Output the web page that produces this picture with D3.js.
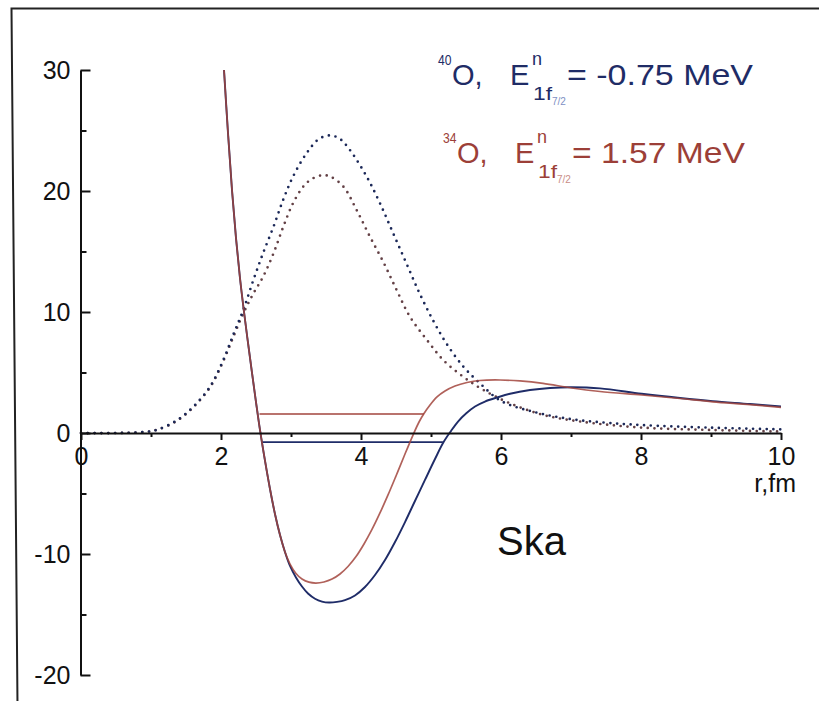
<!DOCTYPE html>
<html>
<head>
<meta charset="utf-8">
<script src="https://cdn.jsdelivr.net/npm/d3@7"></script>
<style>
  html, body { margin: 0; padding: 0; background: #fff; }
  svg { display: block; font-family: "Liberation Sans", Arial, sans-serif; }
</style>
</head>
<body>
<svg id="chart" width="819" height="701"></svg>
<script>
// ---- data ----
const xTickValues = [0, 2, 4, 6, 8, 10];
const xMinorTicks = [1, 3, 5, 7, 9];
const yTickValues = [-20, -10, 0, 10, 20, 30];
const yMinorTicks = [-15, -5, 5, 15, 25];

// common inner wall of both potentials
const wallR = [2.043, 2.1, 2.157, 2.214, 2.271, 2.329, 2.386, 2.443, 2.5, 2.557, 2.629, 2.7, 2.771, 2.843, 2.914];
const wallV = [30.0, 24.79, 20.08, 16.12, 12.81, 10.0, 7.44, 4.96, 2.56, 0.25, -2.31, -4.63, -6.69, -8.43, -9.83];

// 40O potential (solid, blue), continuing after the wall
const potBlueR = [2.986, 3.071, 3.157, 3.243, 3.343, 3.443, 3.543, 3.657, 3.771, 3.914, 4.057, 4.2, 4.343, 4.486, 4.629, 4.771, 4.914, 5.057, 5.176, 5.286, 5.386, 5.5, 5.629, 5.771, 5.943, 6.129, 6.414, 6.7, 7.01, 7.414, 8.01, 8.557, 9.024, 9.557, 10.0];
const potBlueV = [-10.99, -11.94, -12.69, -13.27, -13.70, -13.93, -14.01, -13.96, -13.82, -13.43, -12.73, -11.74, -10.50, -9.01, -7.36, -5.62, -3.88, -2.15, -0.79, 0.17, 0.95, 1.61, 2.19, 2.60, 2.93, 3.24, 3.55, 3.72, 3.78, 3.69, 3.24, 2.89, 2.63, 2.40, 2.19];
// 34O potential (solid, red), continuing after the wall
const potRedR = [2.986, 3.071, 3.157, 3.257, 3.357, 3.471, 3.586, 3.7, 3.814, 3.929, 4.043, 4.157, 4.271, 4.386, 4.5, 4.614, 4.743, 4.829, 4.9, 4.986, 5.086, 5.2, 5.343, 5.514, 5.7, 5.986, 6.271, 6.6, 7.01, 7.414, 8.01, 8.557, 9.024, 9.557, 10.0];
const potRedV = [-10.83, -11.61, -12.07, -12.33, -12.40, -12.31, -12.07, -11.65, -11.03, -10.21, -9.17, -7.97, -6.61, -5.12, -3.55, -1.94, -0.17, 0.91, 1.61, 2.31, 2.98, 3.47, 3.88, 4.17, 4.34, 4.38, 4.30, 4.10, 3.72, 3.43, 3.14, 2.85, 2.58, 2.35, 2.12];

// density (dotted)
const denBlueR = [0, 0.5, 0.8, 1.0, 1.13, 1.37, 1.6, 1.84, 2.03, 2.18, 2.32, 2.46, 2.6, 2.75, 2.89, 3.03, 3.22, 3.4, 3.56, 3.7, 3.84, 4.08, 4.27, 4.46, 4.65, 4.84, 5.03, 5.22, 5.46, 5.7, 6.0, 6.5, 7.0, 7.5, 8.0, 9.0, 10.0];
const denBlueV = [0, 0, 0.05, 0.15, 0.35, 1.05, 2.15, 3.8, 6.0, 8.2, 10.2, 12.6, 14.85, 17.05, 19.3, 21.2, 23.1, 24.3, 24.6, 24.3, 23.4, 21.2, 19.0, 16.5, 14.0, 11.5, 9.3, 7.4, 5.5, 4.1, 2.65, 1.7, 1.15, 0.85, 0.66, 0.44, 0.3];
const denRedR = [0, 0.5, 0.8, 1.0, 1.13, 1.37, 1.6, 1.84, 2.03, 2.18, 2.32, 2.46, 2.6, 2.75, 2.89, 3.03, 3.18, 3.3, 3.44, 3.56, 3.75, 3.94, 4.13, 4.33, 4.51, 4.7, 4.94, 5.18, 5.46, 5.75, 6.13, 6.6, 7.13, 8.0, 9.0, 10.0];
const denRedV = [0, 0, 0.05, 0.15, 0.35, 1.0, 2.1, 3.75, 5.9, 8.0, 9.9, 11.5, 12.9, 14.85, 17.05, 19.0, 20.4, 21.0, 21.3, 21.2, 20.35, 18.4, 16.2, 14.0, 11.8, 9.6, 7.7, 6.0, 4.65, 3.55, 2.45, 1.5, 0.95, 0.45, 0.25, 0.12];

// single-particle levels
const levelEnergy = [-0.75, 1.57];
const levelStart = [2.59, 2.55];
const levelEnd = [5.17, 4.90];

const blue = "#1f2c68";
const red = "#a2453d";
const blueDot = "#1b2858";
const redDot = "#634045";

// ---- drawing ----
const svg = d3.select("#chart");

// frame (scanned figure border)
svg.append("path")
  .attr("d", "M830,8.5 L11.5,8.5 L17.5,705")
  .attr("fill", "none").attr("stroke", "#222").attr("stroke-width", 2);

const x = d3.scaleLinear().domain([0, 10]).range([81, 781]);
const y = d3.scaleLinear().domain([-20, 30]).range([675, 70]);

const zip = (a, b) => a.map((v, i) => [v, b[i]]);
const line = d3.line().x(d => x(d[0])).y(d => y(d[1])).curve(d3.curveCatmullRom.alpha(0.5));

// dotted densities
[[denRedR, denRedV, redDot], [denBlueR, denBlueV, blueDot]].forEach(([r, v, c]) => {
  svg.append("path").datum(zip(r, v)).attr("d", line)
    .attr("fill", "none").attr("stroke", c).attr("stroke-width", 2.7)
    .attr("stroke-linecap", "round").attr("stroke-dasharray", "0 6.8");
});

// levels
levelEnergy.forEach((e, i) => {
  svg.append("line")
    .attr("x1", x(levelStart[i])).attr("x2", x(levelEnd[i]))
    .attr("y1", y(e)).attr("y2", y(e))
    .attr("stroke", i === 0 ? blue : red).attr("stroke-width", 1.6);
});

// potentials
const bluePts = zip(wallR, wallV).concat(zip(potBlueR, potBlueV));
const redPts = zip(wallR, wallV).concat(zip(potRedR, potRedV));
svg.append("path").datum(bluePts).attr("d", line)
  .attr("fill", "none").attr("stroke", blue).attr("stroke-width", 1.9);
svg.append("path").datum(redPts).attr("d", line)
  .attr("fill", "none").attr("stroke", red).attr("stroke-width", 1.7).attr("stroke-opacity", 0.85);

// axes
const axisFont = 25;
const fmt = d => String(d);
const gx = svg.append("g").attr("transform", `translate(0,${y(0)})`);
gx.call(d3.axisBottom(x).tickValues(xTickValues).tickSizeInner(7).tickSizeOuter(0).tickPadding(7).tickFormat(fmt));
const gxm = svg.append("g").attr("transform", `translate(0,${y(0)})`);
gxm.call(d3.axisBottom(x).tickValues(xMinorTicks).tickSizeInner(4).tickSizeOuter(0).tickFormat(""));
gxm.select(".domain").remove();

const gy = svg.append("g").attr("transform", `translate(80.5,0)`);
gy.call(d3.axisLeft(y).tickValues(yTickValues).tickSizeInner(-10).tickSizeOuter(0).tickPadding(10).tickFormat(fmt));
const gym = svg.append("g").attr("transform", `translate(80.5,0)`);
gym.call(d3.axisLeft(y).tickValues(yMinorTicks).tickSizeInner(-6).tickSizeOuter(0).tickFormat(""));
gym.select(".domain").remove();

svg.selectAll(".domain, .tick line").attr("stroke", "#111").attr("stroke-width", 2);
svg.selectAll(".tick text").attr("font-size", axisFont).attr("font-family", "Liberation Sans, Arial, sans-serif").attr("fill", "#111");

// axis title
svg.append("text").attr("x", 796).attr("y", 492).attr("text-anchor", "end")
  .attr("font-size", 25).attr("fill", "#111").text("r,fm");

// legend text
function legendLine(cfg) {
  const g = svg.append("g").attr("fill", cfg.color);
  g.append("text").attr("x", cfg.x0).attr("y", cfg.base - 20).attr("font-size", 14)
    .attr("textLength", 13.5).attr("lengthAdjust", "spacingAndGlyphs").text(cfg.iso);
  g.append("text").attr("x", cfg.x0 + 14).attr("y", cfg.base).attr("font-size", 29).text("O,");
  g.append("text").attr("x", cfg.x0 + 72).attr("y", cfg.base).attr("font-size", 29).text("E");
  g.append("text").attr("x", cfg.x0 + 94).attr("y", cfg.base - 20).attr("font-size", 18).text("n");
  g.append("text").attr("x", cfg.x0 + 95).attr("y", cfg.base + 15).attr("font-size", 18)
    .attr("textLength", 19).attr("lengthAdjust", "spacingAndGlyphs").text("1f");
  g.append("text").attr("x", cfg.x0 + 114).attr("y", cfg.base + 20).attr("font-size", 10).attr("fill", cfg.light).text("7/2");
  g.append("text").attr("x", cfg.eqX).attr("y", cfg.base).attr("font-size", 30)
    .attr("textLength", cfg.eqW).attr("lengthAdjust", "spacingAndGlyphs").text(cfg.eq);
}
legendLine({ x0: 438, base: 85, color: "#1f2c66", light: "#7d8fc4", iso: "40", eqX: 567, eqW: 186, eq: "= -0.75 MeV" });
legendLine({ x0: 443, base: 163, color: "#9c3f38", light: "#c98d87", iso: "34", eqX: 572, eqW: 173, eq: "= 1.57 MeV" });

svg.append("text").attr("x", 497).attr("y", 555).attr("font-size", 40).attr("fill", "#111").text("Ska");
</script>
</body>
</html>
